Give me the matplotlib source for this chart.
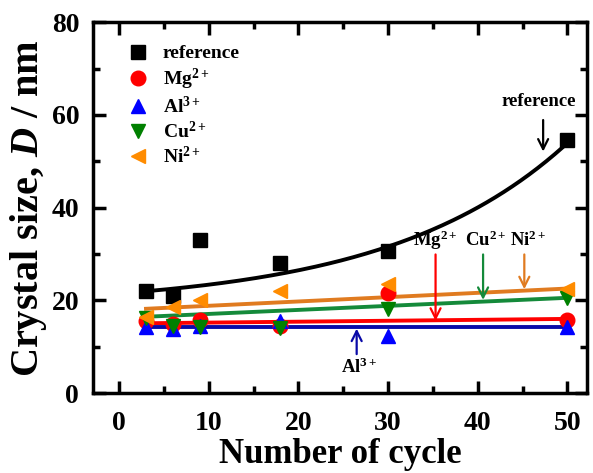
import matplotlib.pyplot as plt
import numpy as np

plt.rcParams["font.family"] = ["Liberation Serif", "DejaVu Serif"]
plt.rcParams["font.weight"] = "bold"
plt.rcParams["axes.labelweight"] = "bold"
plt.rcParams["mathtext.fontset"] = "custom"
plt.rcParams["mathtext.rm"] = "Liberation Serif:bold"
plt.rcParams["mathtext.it"] = "Liberation Serif:bold:italic"
plt.rcParams["mathtext.bf"] = "Liberation Serif:bold"

# Data
cycles = [3, 6, 9, 18, 30, 50]
reference = [22.0, 21.0, 33.0, 28.0, 30.6, 54.5]
mg = [15.5, 15.0, 15.7, 14.5, 21.5, 15.8]
al = [14.3, 13.9, 14.5, 15.5, 12.4, 14.3]
cu = [16.3, 14.5, 14.2, 14.0, 18.2, 20.5]
ni = [16.5, 18.5, 20.0, 22.0, 23.5, 22.5]

# fitted trends as drawn in the chart
ref_trend = (18.6, 2.9, 20.0)  # a + b*exp(x/t)
lin_trends = {
    "Mg$^{2+}$": (15.0, 0.02),
    "Al$^{3+}$": (14.3, 0.0),
    "Cu$^{2+}$": (16.2, 0.087),
    "Ni$^{2+}$": (17.9, 0.093),
}

series = [
    ("reference", reference, "s", "black", "black"),
    ("Mg$^{2+}$", mg, "o", "red", "red"),
    ("Al$^{3+}$", al, "^", "blue", "#0a0aa8"),
    ("Cu$^{2+}$", cu, "v", "green", "#148a3a"),
    ("Ni$^{2+}$", ni, "<", "darkorange", "#e07b20"),
]

fig = plt.figure(figsize=(5.93, 4.73), dpi=100)
ax = fig.add_axes([0.157, 0.169, 0.833, 0.784])

xfit = np.linspace(3, 50, 200)
for label, values, marker, color, line_color in series:
    if label == "reference":
        a, b, t = ref_trend
        yfit = a + b * np.exp(xfit / t)
    else:
        c0, c1 = lin_trends[label]
        yfit = c0 + c1 * xfit
    ax.plot(xfit, yfit, color=line_color, lw=2.8, zorder=2)

for label, values, marker, color, line_color in series:
    ax.plot(cycles, values, marker, color=color, markersize=10.5, label=label,
            linestyle="none", zorder=3)

arrow_kw = dict(arrowstyle="->", lw=1.6, mutation_scale=18)
fs = 13.5
ax.annotate("", xy=(47.3, 51.5), xytext=(47.3, 59.5),
            arrowprops=dict(color="black", **arrow_kw))
ax.text(46.8, 62.8, "reference", ha="center", va="center", fontsize=fs)
ax.annotate("", xy=(35.3, 15.0), xytext=(35.3, 30.5),
            arrowprops=dict(color="red", **arrow_kw))
ax.text(35.3, 33.0, "Mg$^{2+}$", ha="center", va="center", fontsize=fs)
ax.annotate("", xy=(40.6, 19.5), xytext=(40.6, 30.5),
            arrowprops=dict(color="#148a3a", **arrow_kw))
ax.text(40.9, 33.0, "Cu$^{2+}$", ha="center", va="center", fontsize=fs)
ax.annotate("", xy=(45.2, 21.8), xytext=(45.2, 30.5),
            arrowprops=dict(color="#e07b20", **arrow_kw))
ax.text(45.6, 33.0, "Ni$^{2+}$", ha="center", va="center", fontsize=fs)
ax.annotate("", xy=(26.5, 14.5), xytext=(26.5, 7.8),
            arrowprops=dict(color="#0a0aa8", **arrow_kw))
ax.text(26.8, 5.5, "Al$^{3+}$", ha="center", va="center", fontsize=fs)

ax.set_xlim(-2.9, 52.2)
ax.set_ylim(0, 80)
ax.set_xticks([0, 10, 20, 30, 40, 50])
ax.set_xticks([5, 15, 25, 35, 45], minor=True)
ax.set_yticks([0, 20, 40, 60, 80])
ax.set_yticks([10, 30, 50, 70], minor=True)
ax.tick_params(which="both", direction="in", top=True, right=True, width=2.5,
               labelsize=20)
ax.tick_params(axis="x", pad=13)
ax.tick_params(axis="y", pad=10)
ax.tick_params(which="major", length=9)
ax.tick_params(which="minor", length=5)
for spine in ax.spines.values():
    spine.set_linewidth(2.5)

ax.set_xlabel("Number of cycle", fontsize=25, labelpad=1)
ax.set_ylabel("Crystal size, $\\it{D}$ / nm", fontsize=29, labelpad=2)

leg = ax.legend(loc="upper left", frameon=False, fontsize=14, handletextpad=0.3,
                labelspacing=0.2, borderaxespad=0.0, bbox_to_anchor=(0.035, 0.96))

fig.savefig("out.png", dpi=100)
